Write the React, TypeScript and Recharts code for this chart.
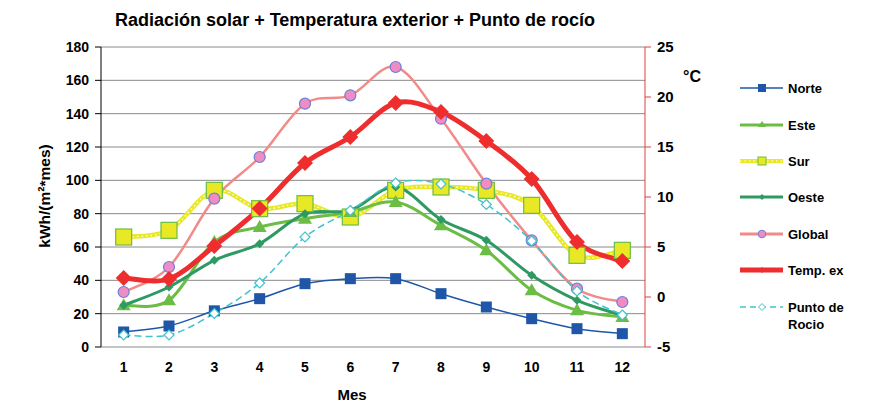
import React from 'react'
import { LineChart, Line, XAxis, YAxis, CartesianGrid } from 'recharts'

const meses = [1, 2, 3, 4, 5, 6, 7, 8, 9, 10, 11, 12]
const norte = [9, 12.6, 21.7, 29, 38, 41, 41, 32, 24, 17, 11, 8]
const este = [25, 28, 63, 72, 77, 81, 87, 73, 58, 34, 22, 18]
const sur = [66, 70, 94, 83, 86, 78, 94, 96, 94, 85, 55, 58]
const oeste = [25, 36, 52, 62, 80, 82, 96, 76.5, 64, 43, 28, 19]
const global = [33, 48, 89, 114, 146, 151, 168, 137, 98, 64, 35, 27]
const tempExt = [1.9, 1.8, 5.1, 8.85, 13.4, 16.0, 19.4, 18.5, 15.6, 11.8, 5.5, 3.6]
const puntoRocio = [-3.8, -3.8, -1.65, 1.4, 6.0, 8.65, 11.4, 11.3, 9.25, 5.6, 0.6, -1.8]

const leftTicks = [0, 20, 40, 60, 80, 100, 120, 140, 160, 180]
const rightTicks = [-5, 0, 5, 10, 15, 20, 25]
const bandEdges = [0.5, 1.5, 2.5, 3.5, 4.5, 5.5, 6.5, 7.5, 8.5, 9.5, 10.5, 11.5, 12.5]

const data = meses.map((m, i) => ({
  mes: m,
  norte: norte[i],
  este: este[i],
  sur: sur[i],
  oeste: oeste[i],
  global: global[i],
  temp: tempExt[i],
  rocio: puntoRocio[i],
}))

const FONT = '"Liberation Sans", Arial, sans-serif'

const C = {
  norte: '#1f56a8',
  este: '#6cbd45',
  sur: '#e9e824',
  oeste: '#2e9a62',
  global: '#f28a8a',
  globalFill: '#f08cc4',
  globalEdge: '#6a80d6',
  temp: '#ee2e2e',
  rocio: '#3fc3cc',
}

// Excel-like smoothed line (Catmull-Rom style bezier), used as a d3 curve factory
const smooth = (ctx: any) => {
  let pts: [number, number][] = []
  const k = 1 / 6
  return {
    areaStart() {},
    areaEnd() {},
    lineStart() { pts = [] },
    point(x: number, y: number) { pts.push([+x, +y]) },
    lineEnd() {
      if (!pts.length) return
      ctx.moveTo(pts[0][0], pts[0][1])
      for (let i = 0; i < pts.length - 1; i++) {
        const p0 = pts[Math.max(0, i - 1)]
        const p1 = pts[i]
        const p2 = pts[i + 1]
        const p3 = pts[Math.min(pts.length - 1, i + 2)]
        ctx.bezierCurveTo(
          p1[0] + (p2[0] - p0[0]) * k, p1[1] + (p2[1] - p0[1]) * k,
          p2[0] - (p3[0] - p1[0]) * k, p2[1] - (p3[1] - p1[1]) * k,
          p2[0], p2[1],
        )
      }
    },
  }
}

type Mk = 'square' | 'triangle' | 'sur' | 'smallDiamond' | 'circle' | 'bigDiamond' | 'hollowDiamond'

function marker(kind: Mk, cx: number, cy: number, key?: string | number) {
  switch (kind) {
    case 'square':
      return <rect key={key} x={cx - 5.5} y={cy - 5.5} width={11} height={11} fill={C.norte} />
    case 'triangle':
      return <path key={key} d={`M${cx},${cy - 7} L${cx + 7},${cy + 5} L${cx - 7},${cy + 5} Z`} fill={C.este} />
    case 'sur':
      return <rect key={key} x={cx - 8} y={cy - 8} width={16} height={16} fill={C.sur} stroke={C.este} strokeWidth={1.2} />
    case 'smallDiamond':
      return <path key={key} d={`M${cx},${cy - 4.5} L${cx + 4.5},${cy} L${cx},${cy + 4.5} L${cx - 4.5},${cy} Z`} fill={C.oeste} />
    case 'circle':
      return <circle key={key} cx={cx} cy={cy} r={5.5} fill={C.globalFill} stroke={C.globalEdge} strokeWidth={1.2} />
    case 'bigDiamond':
      return <path key={key} d={`M${cx},${cy - 8} L${cx + 8},${cy} L${cx},${cy + 8} L${cx - 8},${cy} Z`} fill={C.temp} />
    case 'hollowDiamond':
      return <path key={key} d={`M${cx},${cy - 5} L${cx + 5},${cy} L${cx},${cy + 5} L${cx - 5},${cy} Z`} fill="#fff" stroke={C.rocio} strokeWidth={1.2} />
  }
}

const dotOf = (kind: Mk) => (p: any) => marker(kind, p.cx, p.cy, `${kind}-${p.index}`)

const legendItems: { label: string[]; color: string; width: number; dash?: string; kind: Mk }[] = [
  { label: ['Norte'], color: C.norte, width: 1.5, kind: 'square' },
  { label: ['Este'], color: C.este, width: 3, kind: 'triangle' },
  { label: ['Sur'], color: C.sur, width: 4, kind: 'sur' },
  { label: ['Oeste'], color: C.oeste, width: 3, kind: 'smallDiamond' },
  { label: ['Global'], color: C.global, width: 3, kind: 'circle' },
  { label: ['Temp. ex'], color: C.temp, width: 5, kind: 'bigDiamond' },
  { label: ['Punto de', 'Rocio'], color: C.rocio, width: 1.5, dash: '6 4', kind: 'hollowDiamond' },
]

const legendY = [88, 125, 161, 197, 234, 270, 307]

export default function App() {
  const tick = { fontFamily: FONT, fontSize: 14, fontWeight: 700, fill: '#000' }
  return (
    <div style={{ position: 'absolute', left: 0, top: 0, width: 880, height: 406, background: '#fff' }}>
      <LineChart
        width={880}
        height={406}
        data={data}
        margin={{ top: 47, right: 175, bottom: 0, left: 0 }}
      >
        <CartesianGrid yAxisId="left" xAxisId="cat" vertical={false} stroke="#8a8a8a" strokeWidth={1} />
        <XAxis
          xAxisId="edges"
          type="number"
          dataKey="mes"
          domain={[0.5, 12.5]}
          ticks={bandEdges}
          tick={false}
          height={0}
          axisLine={{ stroke: '#000' }}
          tickLine={{ stroke: '#000' }}
          tickSize={6}
        />
        <XAxis
          xAxisId="cat"
          type="number"
          dataKey="mes"
          domain={[0.5, 12.5]}
          ticks={meses}
          interval={0}
          height={59}
          axisLine={false}
          tickLine={false}
          tickSize={13}
          tick={tick}
        />
        <YAxis
          yAxisId="left"
          width={101}
          domain={[0, 180]}
          ticks={leftTicks}
          interval={0}
          axisLine={{ stroke: '#000' }}
          tickLine={{ stroke: '#000' }}
          tickSize={6}
          tickMargin={6}
          tick={tick}
        />
        <YAxis
          yAxisId="right"
          orientation="right"
          width={60}
          domain={[-5, 25]}
          ticks={rightTicks}
          interval={0}
          axisLine={{ stroke: '#e04040' }}
          tickLine={{ stroke: '#e04040' }}
          tickSize={6}
          tickMargin={6}
          tick={{ ...tick, fontSize: 15 }}
        />
        <Line xAxisId="cat" yAxisId="left" type={smooth as any} dataKey="sur" stroke={C.sur} strokeWidth={4.5} dot={false} isAnimationActive={false} />
        <Line xAxisId="cat" yAxisId="left" type={smooth as any} dataKey="sur" stroke="#ffffff" strokeWidth={1.3} strokeDasharray="1.5 3" dot={dotOf('sur')} isAnimationActive={false} />
        <Line xAxisId="cat" yAxisId="left" type={smooth as any} dataKey="este" stroke={C.este} strokeWidth={3} dot={dotOf('triangle')} isAnimationActive={false} />
        <Line xAxisId="cat" yAxisId="left" type={smooth as any} dataKey="oeste" stroke={C.oeste} strokeWidth={3} dot={dotOf('smallDiamond')} isAnimationActive={false} />
        <Line xAxisId="cat" yAxisId="left" type={smooth as any} dataKey="global" stroke={C.global} strokeWidth={2.5} dot={dotOf('circle')} isAnimationActive={false} />
        <Line xAxisId="cat" yAxisId="left" type={smooth as any} dataKey="norte" stroke={C.norte} strokeWidth={1.5} dot={dotOf('square')} isAnimationActive={false} />
        <Line xAxisId="cat" yAxisId="right" type={smooth as any} dataKey="rocio" stroke={C.rocio} strokeWidth={1.5} strokeDasharray="7 4" dot={dotOf('hollowDiamond')} isAnimationActive={false} />
        <Line xAxisId="cat" yAxisId="right" type={smooth as any} dataKey="temp" stroke={C.temp} strokeWidth={5} dot={dotOf('bigDiamond')} isAnimationActive={false} />
      </LineChart>
      <svg width={880} height={406} style={{ position: 'absolute', left: 0, top: 0, pointerEvents: 'none' }} fontFamily={FONT} fontWeight={700}>
        <text x={355} y={26} textAnchor="middle" fontSize={18}>
          Radiación solar + Temperatura exterior + Punto de rocío
        </text>
        <text transform="translate(50,196) rotate(-90)" textAnchor="middle" fontSize={15.5}>
          kWh/(m²*mes)
        </text>
        <text x={683} y={82} fontSize={16}>°C</text>
        <text x={352} y={400} textAnchor="middle" fontSize={15}>Mes</text>
        {legendItems.map((it, i) => {
          const y = legendY[i]
          return (
            <g key={it.label[0]}>
              <line x1={740} x2={783} y1={y} y2={y} stroke={it.color} strokeWidth={it.width} strokeDasharray={it.dash} />
              {it.kind === 'sur' && (
                <line x1={740} x2={783} y1={y} y2={y} stroke="#fff" strokeWidth={1.2} strokeDasharray="1.5 3" />
              )}
              {it.kind === 'sur'
                ? <rect x={758} y={y - 4} width={8} height={8} fill={C.sur} stroke={C.este} strokeWidth={1} />
                : it.kind === 'bigDiamond'
                  ? <path d={`M762,${y - 3} L765,${y} L762,${y + 3} L759,${y} Z`} fill={C.temp} />
                  : it.kind === 'square'
                    ? <rect x={758} y={y - 4} width={8} height={8} fill={C.norte} />
                    : it.kind === 'circle'
                      ? <circle cx={762} cy={y} r={3.8} fill={C.globalFill} stroke={C.globalEdge} strokeWidth={1} />
                      : it.kind === 'triangle'
                        ? <path d={`M762,${y - 4} L766,${y + 2} L758,${y + 2} Z`} fill={C.este} />
                        : it.kind === 'smallDiamond'
                          ? <path d={`M762,${y - 3} L765,${y} L762,${y + 3} L759,${y} Z`} fill={C.oeste} />
                          : <path d={`M762,${y - 3.5} L765.5,${y} L762,${y + 3.5} L758.5,${y} Z`} fill="#fff" stroke={C.rocio} strokeWidth={1} />}
              {it.label.map((l, j) => (
                <text key={l} x={788} y={y + 5 + j * 17} fontSize={13}>{l}</text>
              ))}
            </g>
          )
        })}
      </svg>
    </div>
  )
}
